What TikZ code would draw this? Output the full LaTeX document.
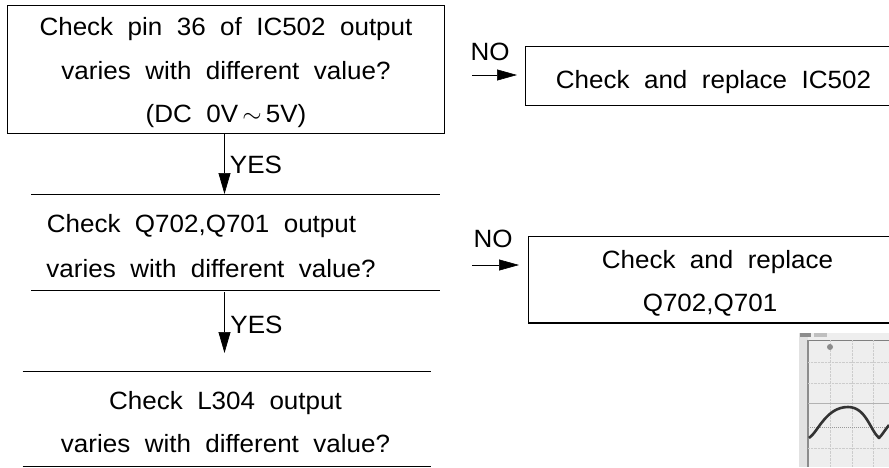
\documentclass[tikz,border=0pt]{standalone}
\usepackage{fontspec}
\setmainfont[FakeStretch=1.04]{Liberation Sans}
\usetikzlibrary{arrows.meta}
\definecolor{scopebg}{HTML}{EEEEEE}
\definecolor{scopestrip}{HTML}{E2E2E2}
\begin{document}
\begin{tikzpicture}[
        x=1pt, y=-1pt,
        txt/.style = {inner sep=0pt, font=\fontsize{25}{43.5}\selectfont, align=center},
        boxed/.style = {draw, line width=0.8pt, inner sep=0pt, anchor=north west},
        band/.style = {inner sep=0pt, anchor=north west},
        rule/.style = {line width=0.8pt},
        yesarrow/.style = {line width=0.7pt, -{Triangle[length=21pt,width=12pt]}},
        noarrow/.style = {line width=0.6pt, -{Triangle[length=20pt,width=11pt]}},
        wave/.style = {line width=2.6pt, black!80, line join=round}
    ]
        \useasboundingbox (0,0) rectangle (889,467);
        % scope trace
        \fill[scopestrip] (799,333) rectangle (808,467);
        \fill[scopebg] (808,333) rectangle (889,467);
        \fill[black!45] (800,333) rectangle (811,337);
        \fill[black!25] (814,333) rectangle (827,337);
        \draw[black!50, line width=1pt] (808,340) -- (889,340);
        \draw[black!45, line width=1.2pt] (808,340) -- (808,467);
        \foreach \gx in {830,852,873} \draw[black!20, densely dotted] (\gx,340) -- (\gx,467);
        \foreach \gy in {362,383,448} \draw[black!20, densely dotted] (808,\gy) -- (889,\gy);
        \draw[black!30] (808,403) -- (889,403);
        \draw[black!40, densely dotted, line width=1pt] (808,427) -- (889,427);
        \fill[black!45] (830,347) circle (3pt);
        \draw[wave] (809,438) .. controls (818,432) and (826,407) .. (848,407) .. controls (866,407) and (870,430) .. (879,438) .. controls (882,435) and (885,430) .. (889,425);
        % top row
        \node[boxed, minimum width=437pt, minimum height=128pt] (pincheck) at (7,5) {};
        \node[txt] (pintext) at (226,73) {Check\ \ pin\ \ 36\ \ of\ \ IC502\ \ output\\varies\ \ with\ \ different\ \ value?\\(DC\ \ 0V\,$\sim$\,5V)};
        \node[boxed, minimum width=370pt, minimum height=59pt] (icbox) at (524.5,46) {};
        \node[txt] (ictext) at (713.5,82) {Check\ \ and\ \ replace\ \ IC502};
        \node[txt] (nofirst) at (490,52) {NO};
        \coordinate (nofirststart) at (472,75);
        \coordinate (nofirstend) at (517,75);
        \draw[noarrow] (nofirststart) -- (nofirstend);
        % middle row
        \node[band, minimum width=409pt, minimum height=96pt] (qcheck) at (31,194) {};
        \node[txt] (qtextone) at (201.5,226) {Check\ \ Q702,Q701\ \ output};
        \node[txt] (qtexttwo) at (211,269) {varies\ \ with\ \ different\ \ value?};
        \draw[rule] (qcheck.north west) -- (qcheck.north east);
        \draw[rule] (qcheck.south west) -- (qcheck.south east);
        \node[boxed, minimum width=365pt, minimum height=86pt] (qbox) at (528,236) {};
        \draw[line width=1.5pt] (qbox.south west) -- (qbox.south east);
        \node[txt] (qboxone) at (717.5,262) {Check\ \ and\ \ replace};
        \node[txt] (qboxtwo) at (710,305) {Q702,Q701};
        \node[txt] (nosecond) at (493,239) {NO};
        \coordinate (nosecondstart) at (472,265);
        \coordinate (nosecondend) at (519,265);
        \draw[noarrow] (nosecondstart) -- (nosecondend);
        % bottom row
        \node[band, minimum width=408pt, minimum height=95pt] (lcheck) at (22.5,371) {};
        \node[txt] (ltext) at (225.5,422) {Check\ \ L304\ \ output\\varies\ \ with\ \ different\ \ value?};
        \draw[rule] (lcheck.north west) -- (lcheck.north east);
        \draw[rule] (lcheck.south west) -- (lcheck.south east);
        % yes arrows
        \coordinate (spine) at (224.5,0);
        \coordinate (secondtip) at (224.5,353);
        \coordinate (secondtail) at (224.5,292);
        \draw[yesarrow] (pincheck.south -| spine) -- (qcheck.north -| spine);
        \draw[yesarrow] (secondtail) -- (secondtip);
        \node[txt] (yesfirst) at (256,165) {YES};
        \node[txt] (yessecond) at (256.5,325) {YES};
    \end{tikzpicture}
\end{document}
